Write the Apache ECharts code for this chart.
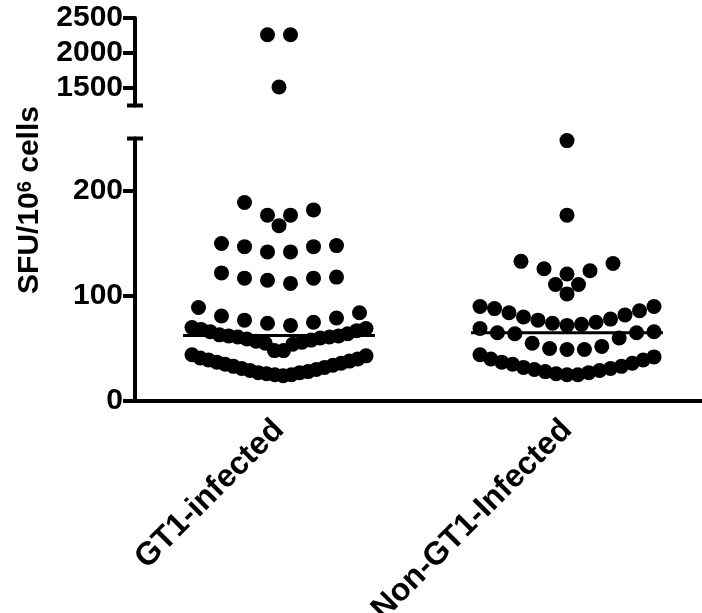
<!DOCTYPE html>
<html><head><meta charset="utf-8">
<script src="https://cdn.jsdelivr.net/npm/echarts@6/dist/echarts.min.js"></script>
<style>html,body{margin:0;padding:0;background:#fff}#c{width:702px;height:613px}</style>
</head><body><div id="c"></div>
<script>
// ---- data ----
const categories = ['GT1-infected', 'Non-GT1-Infected'];
const gt1Values = [2260, 2260, 1515,
  189, 182, 177, 177, 167,
  150, 148, 147, 147, 142, 142,
  122, 118, 117, 117, 115, 112,
  89, 84, 81, 79, 77, 75, 74, 72,
  70, 69, 68, 67, 66, 64, 63, 62, 62, 61, 61, 60, 59, 58, 57, 56, 55, 54, 48, 48,
  44, 43, 41, 40, 39, 38, 37, 36, 35, 34, 33, 32, 31, 30, 29, 28, 27, 27, 26, 25, 25, 24];
const nonGt1Values = [248, 177,
  133, 131, 126, 124, 121,
  111, 111, 102,
  90, 90, 88, 86, 84, 82, 80, 78, 77, 75, 74, 73, 72,
  69, 66, 65, 65, 64, 60, 55, 52, 50, 49, 49,
  44, 42, 40, 39, 37, 36, 35, 33, 32, 31, 30, 29, 28, 27, 26, 25, 25];
const yTicksTop = [1500, 2000, 2500];
const yTicksBottom = [0, 100, 200];
const groups = [gt1Values, nonGt1Values];

// ---- layout constants (styles) ----
const W = 702, gridLeft = 135, gridRight = -9;
const xMin = 0.5, xMax = 2.5;
const breakValue = 1250;
const rowSpan = 23, rowGap = 8;      // value units for grouping dots in a row
const dotStep = 23, rowWidth = 174;  // px
const medianHalf = 1 / 3;

function median(arr) {
  const s = arr.slice().sort((a, b) => a - b);
  const n = s.length;
  return n % 2 ? s[(n - 1) / 2] : (s[n / 2 - 1] + s[n / 2]) / 2;
}
function makeRows(values) {
  const s = values.slice().sort((a, b) => a - b);
  const rows = [];
  let cur = null, start = 0, prev = 0;
  s.forEach(v => {
    if (!cur || v >= start + rowSpan || v - prev > rowGap) {
      cur = []; rows.push(cur); start = v;
    }
    cur.push(v); prev = v;
  });
  return rows;
}
function slot(i, n) {
  if (n % 2) { if (i === 0) return 0; const m = Math.ceil(i / 2); return i % 2 ? m : -m; }
  const m = Math.floor(i / 2) + 0.5; return i % 2 ? -m : m;
}
const pxPerUnit = (W - gridLeft - gridRight) / (xMax - xMin);
const topPts = [], botPts = [];
groups.forEach((vals, gi) => {
  const c = gi + 1;
  makeRows(vals).forEach(row => {
    const n = row.length;
    const step = n > 1 ? Math.min(dotStep, rowWidth / (n - 1)) : 0;
    row.forEach((v, i) => {
      const x = c + slot(i, n) * step / pxPerUnit;
      (v >= breakValue ? topPts : botPts).push([x, v]);
    });
  });
});

const black = '#000';
const font = 'Liberation Sans, Arial, sans-serif';
const lblStyle = { fontSize: 30, fontWeight: 'bold', color: black, fontFamily: font };
const plain = v => String(v);

const chart = echarts.init(document.getElementById('c'));
chart.setOption({
  animation: false,
  backgroundColor: '#fff',
  grid: [
    { left: gridLeft, right: gridRight, top: 18, height: 87.5, outerBoundsMode: 'none', containLabel: false },
    { left: gridLeft, right: gridRight, top: 138.5, height: 262.5, outerBoundsMode: 'none', containLabel: false }
  ],
  xAxis: [
    { gridIndex: 0, type: 'value', min: xMin, max: xMax, show: false },
    { gridIndex: 1, type: 'value', min: xMin, max: xMax, show: false, position: 'top' },
    { gridIndex: 1, type: 'category', position: 'bottom', data: categories, boundaryGap: true,
      axisLine: { lineStyle: { color: black, width: 4, cap: 'square' } },
      axisTick: { alignWithLabel: true, length: 14, lineStyle: { color: black, width: 4 } },
      axisLabel: Object.assign({}, lblStyle, { rotate: 45, margin: 24, interval: 0, fontSize: 32 }),
      splitLine: { show: false } }
  ],
  yAxis: [
    { gridIndex: 0, type: 'value', min: breakValue, max: 2500, position: 'left',
      axisLine: { show: true, symbol: ['rect', 'none'], symbolSize: [16, 4],
        lineStyle: { color: black, width: 4 } },
      axisTick: { show: true, customValues: yTicksTop, length: 12, lineStyle: { color: black, width: 4 } },
      axisLabel: Object.assign({ customValues: yTicksTop, margin: 12, formatter: plain }, lblStyle),
      splitLine: { show: false } },
    { gridIndex: 1, type: 'value', min: 0, max: 250, position: 'left',
      axisLine: { show: true, symbol: ['none', 'rect'], symbolSize: [16, 4],
        lineStyle: { color: black, width: 4 } },
      axisTick: { show: true, customValues: yTicksBottom, length: 12, lineStyle: { color: black, width: 4 } },
      axisLabel: Object.assign({ customValues: yTicksBottom, margin: 12, formatter: plain }, lblStyle),
      splitLine: { show: false } }
  ],
  graphic: [{
    type: 'text', x: 30, y: 200, rotation: Math.PI / 2,
    style: {
      text: 'SFU/10{sup|6} cells',
      font: 'bold 30px ' + font,
      fill: black, align: 'center', verticalAlign: 'middle',
      rich: { sup: { fontSize: 20, fontWeight: 'bold', fontFamily: font, fill: black, verticalAlign: 'top', padding: [0, 0, 10, 0] } }
    }
  }],
  series: [
    { type: 'scatter', xAxisIndex: 0, yAxisIndex: 0, data: topPts, symbolSize: 15,
      itemStyle: { color: black, opacity: 1 }, silent: true },
    { type: 'scatter', xAxisIndex: 1, yAxisIndex: 1, data: botPts, symbolSize: 15,
      itemStyle: { color: black, opacity: 1 }, silent: true },
    ...groups.map((vals, gi) => {
      const m = median(vals);
      return { type: 'line', xAxisIndex: 1, yAxisIndex: 1, symbol: 'none', z: 3,
        data: [[gi + 1 - medianHalf, m], [gi + 1 + medianHalf, m]],
        lineStyle: { color: black, width: 3 }, silent: true };
    })
  ]
});
</script></body></html>
